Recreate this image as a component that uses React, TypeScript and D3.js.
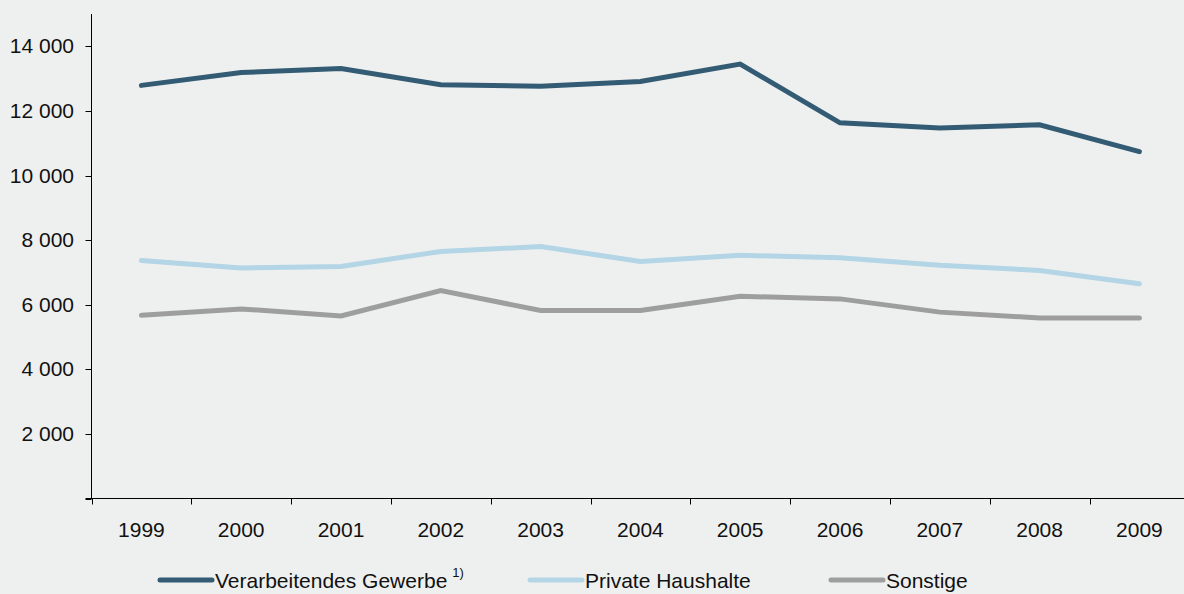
import React, { useRef, useEffect } from 'react';
import * as d3 from 'd3';

const years = ['1999', '2000', '2001', '2002', '2003', '2004', '2005', '2006', '2007', '2008', '2009'];
const verarbeitendes = [12790, 13190, 13310, 12810, 12760, 12910, 13450, 11630, 11470, 11570, 10740];
const privateHaushalte = [7370, 7140, 7180, 7650, 7800, 7340, 7530, 7450, 7220, 7060, 6650];
const sonstige = [5670, 5870, 5650, 6440, 5820, 5820, 6260, 6180, 5770, 5590, 5590];
const yTicks = [0, 2000, 4000, 6000, 8000, 10000, 12000, 14000];

const seriesNames = ['Verarbeitendes Gewerbe', 'Private Haushalte', 'Sonstige'];
const seriesColors = ['#335b74', '#b3d5e5', '#9e9e9f'];

const App = () => {
  const ref = useRef<SVGSVGElement>(null);
  const width = 1184;
  const height = 594;

  useEffect(() => {
    const svg = d3.select(ref.current);
    svg.selectAll('*').remove();
    const font = 'Liberation Sans, Arial, sans-serif';
    const fs = 21;

    svg.append('rect').attr('width', width).attr('height', height).attr('fill', '#eef0ef');

    const left = 91.5;
    const bottom = 498.5;
    const step = 99.8;

    const x = d3.scaleBand().domain(years).range([left, left + step * years.length]).padding(0);
    const y = d3.scaleLinear().domain([0, 15000]).range([bottom, 14]);
    const fmt = (v: number) => d3.format(',')(v).replace(/,/g, ' ');

    // y axis
    const yAxis = svg.append('g');
    yAxis.append('line')
      .attr('x1', left).attr('x2', left)
      .attr('y1', y(15000)).attr('y2', bottom)
      .attr('stroke', '#000').attr('stroke-width', 1);
    yAxis.selectAll('.yt').data(yTicks).enter().append('line')
      .attr('x1', left - 6).attr('x2', left)
      .attr('y1', (d) => Math.round(y(d)) + 0.5).attr('y2', (d) => Math.round(y(d)) + 0.5)
      .attr('stroke', '#000');
    yAxis.selectAll('text').data(yTicks.filter((d) => d > 0)).enter().append('text')
      .attr('x', 74).attr('y', (d) => y(d) + 7)
      .attr('text-anchor', 'end')
      .attr('font-family', font).attr('font-size', fs)
      .attr('fill', '#111')
      .text((d) => fmt(d));

    // x axis
    const xAxis = svg.append('g');
    xAxis.append('line')
      .attr('x1', left - 6).attr('x2', width)
      .attr('y1', bottom).attr('y2', bottom)
      .attr('stroke', '#000');
    xAxis.selectAll('.xt').data(years).enter().append('line')
      .attr('x1', (d) => Math.round(x(d) as number) + 0.5)
      .attr('x2', (d) => Math.round(x(d) as number) + 0.5)
      .attr('y1', bottom).attr('y2', bottom + 6)
      .attr('stroke', '#000');
    xAxis.selectAll('text').data(years).enter().append('text')
      .attr('x', (d) => (x(d) as number) + x.bandwidth() / 2)
      .attr('y', 536.5)
      .attr('text-anchor', 'middle')
      .attr('font-family', font).attr('font-size', fs)
      .attr('fill', '#111')
      .text((d) => d);

    // lines
    const allSeries = [verarbeitendes, privateHaushalte, sonstige];
    const line = d3.line<number>()
      .x((_, i) => (x(years[i]) as number) + x.bandwidth() / 2)
      .y((d) => y(d));
    [2, 1, 0].forEach((k) => {
      svg.append('path')
        .attr('d', line(allSeries[k]) as string)
        .attr('fill', 'none')
        .attr('stroke', seriesColors[k])
        .attr('stroke-width', 5)
        .attr('stroke-linecap', 'round')
        .attr('stroke-linejoin', 'miter');
    });

    // legend
    const legendX = [160, 530, 831];
    const legendY = 580;
    const lg = svg.append('g');
    seriesNames.forEach((name, k) => {
      lg.append('line')
        .attr('x1', legendX[k]).attr('x2', legendX[k] + 52)
        .attr('y1', legendY).attr('y2', legendY)
        .attr('stroke', seriesColors[k]).attr('stroke-width', 5)
        .attr('stroke-linecap', 'round');
      const t = lg.append('text')
        .attr('x', legendX[k] + 55).attr('y', legendY + 8)
        .attr('font-family', font).attr('font-size', fs)
        .attr('fill', '#111')
        .text(name);
      if (k === 0) {
        t.append('tspan').attr('dx', 5).attr('dy', -11).attr('font-size', 13).text('1)');
      }
    });
  }, []);

  return (
    <svg ref={ref} width={width} height={height}
      style={{ position: 'absolute', left: 0, top: 0, display: 'block' }} />
  );
};

export default App;
